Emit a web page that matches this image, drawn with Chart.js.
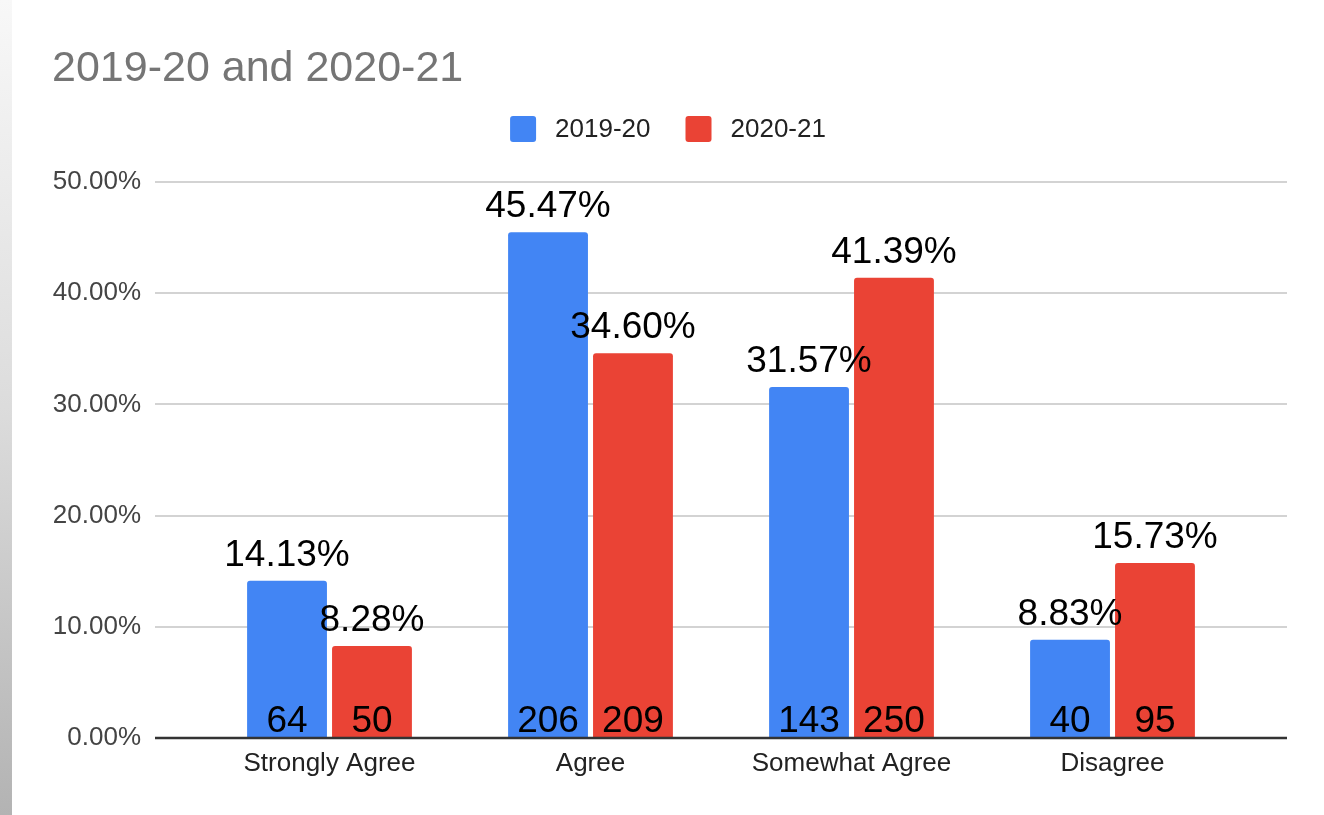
<!DOCTYPE html>
<html>
<head>
<meta charset="utf-8">
<script src="https://cdn.jsdelivr.net/npm/chart.js@4/dist/chart.umd.min.js"></script>
<style>
  html, body { margin: 0; padding: 0; background: #ffffff; }
  #wrap { position: relative; width: 1324px; height: 815px; overflow: hidden; }
  #strip { position: absolute; left: 0; top: 0; width: 12px; height: 815px;
           background: linear-gradient(to bottom, #f8f8f8 0%, #dcdcdc 50%, #b3b3b3 100%); }
  canvas { position: absolute; left: 0; top: 0; }
</style>
</head>
<body>
<div id="wrap">
  <canvas id="c" width="1324" height="815"></canvas>
  <div id="strip"></div>
</div>
<script>
const chartTitle = '2019-20 and 2020-21';
const categories = ['Strongly Agree', 'Agree', 'Somewhat Agree', 'Disagree'];
const seriesNames = ['2019-20', '2020-21'];
const pct2019 = [14.13, 45.47, 31.57, 8.83];
const pct2020 = [8.28, 34.60, 41.39, 15.73];
const count2019 = [64, 206, 143, 40];
const count2020 = [50, 209, 250, 95];
const seriesColors = ['#4285f4', '#ea4335'];
const yMin = 0, yMax = 50, yStep = 10;

const FONT = '"Liberation Sans", Arial, sans-serif';

const decorPlugin = {
  id: 'decor',
  beforeDatasetsDraw(chart) {
    const ctx = chart.ctx;
    const y = chart.scales.y;
    const L = chart.chartArea.left - 44, R = chart.chartArea.right + 44;
    ctx.save();
    ctx.strokeStyle = '#d3d3d3';
    ctx.lineWidth = 2;
    y.ticks.forEach(t => {
      if (t.value === yMin) return;
      const py = Math.round(y.getPixelForValue(t.value));
      ctx.beginPath();
      ctx.moveTo(L, py);
      ctx.lineTo(R, py);
      ctx.stroke();
    });
    ctx.restore();

    // title
    ctx.save();
    ctx.font = '43px ' + FONT;
    ctx.fillStyle = '#757575';
    ctx.textAlign = 'left';
    ctx.textBaseline = 'alphabetic';
    ctx.fillText(chartTitle, 52, 81);
    ctx.restore();

    // legend
    ctx.save();
    ctx.font = '26px ' + FONT;
    const box = 26, gapText = 19, gapItem = 35;
    const items = chart.data.datasets.map(ds => ({ label: ds.label, color: ds.backgroundColor, w: ctx.measureText(ds.label).width }));
    let total = 0;
    items.forEach((it, i) => { total += box + gapText + it.w + (i < items.length - 1 ? gapItem : 0); });
    let x = 668 - total / 2;
    const cy = 129;
    items.forEach(it => {
      ctx.fillStyle = it.color;
      ctx.beginPath();
      ctx.roundRect(x, cy - box / 2, box, box, 3);
      ctx.fill();
      ctx.fillStyle = '#222222';
      ctx.textAlign = 'left';
      ctx.textBaseline = 'middle';
      ctx.fillText(it.label, x + box + gapText, cy + 1);
      x += box + gapText + it.w + gapItem;
    });
    ctx.restore();
  },
  afterDatasetsDraw(chart) {
    const ctx = chart.ctx;
    const y = chart.scales.y;
    const base = y.getPixelForValue(0);
    const L = chart.chartArea.left - 44, R = chart.chartArea.right + 44;
    ctx.save();
    ctx.strokeStyle = '#333333';
    ctx.lineWidth = 2.5;
    ctx.beginPath();
    ctx.moveTo(L, base);
    ctx.lineTo(R, base);
    ctx.stroke();

    ctx.font = '37px ' + FONT;
    ctx.fillStyle = '#000000';
    ctx.textAlign = 'center';
    ctx.textBaseline = 'alphabetic';
    const counts = [count2019, count2020];
    chart.data.datasets.forEach((ds, di) => {
      const meta = chart.getDatasetMeta(di);
      meta.data.forEach((bar, i) => {
        ctx.fillText(ds.data[i].toFixed(2) + '%', bar.x, bar.y - 15);
        ctx.fillText(String(counts[di][i]), bar.x, base - 6);
      });
    });
    ctx.restore();
  }
};

new Chart(document.getElementById('c'), {
  type: 'bar',
  data: {
    labels: categories,
    datasets: [
      { label: seriesNames[0], data: pct2019, backgroundColor: seriesColors[0] },
      { label: seriesNames[1], data: pct2020, backgroundColor: seriesColors[1] }
    ]
  },
  options: {
    responsive: false,
    animation: false,
    devicePixelRatio: 1,
    layout: { padding: { top: 182, left: 0, right: 81, bottom: 0 } },
    datasets: {
      bar: {
        categoryPercentage: 0.651,
        barPercentage: 0.94,
        borderRadius: { topLeft: 3, topRight: 3, bottomLeft: 0, bottomRight: 0 },
        borderSkipped: 'start'
      }
    },
    plugins: {
      legend: { display: false },
      title: { display: false },
      tooltip: { enabled: false }
    },
    scales: {
      x: {
        grid: { display: false, drawTicks: false },
        border: { display: false },
        ticks: { font: { family: FONT, size: 26 }, color: '#222222', padding: 10 },
        afterFit(scale) { scale.height = 77; }
      },
      y: {
        min: yMin, max: yMax,
        grid: { display: false, drawTicks: false },
        border: { display: false },
        ticks: {
          stepSize: yStep,
          font: { family: FONT, size: 26 },
          color: '#444444',
          padding: 58,
          callback: v => v.toFixed(2) + '%'
        },
        afterFit(scale) { scale.width = 199; }
      }
    }
  },
  plugins: [decorPlugin]
});
</script>
</body>
</html>
